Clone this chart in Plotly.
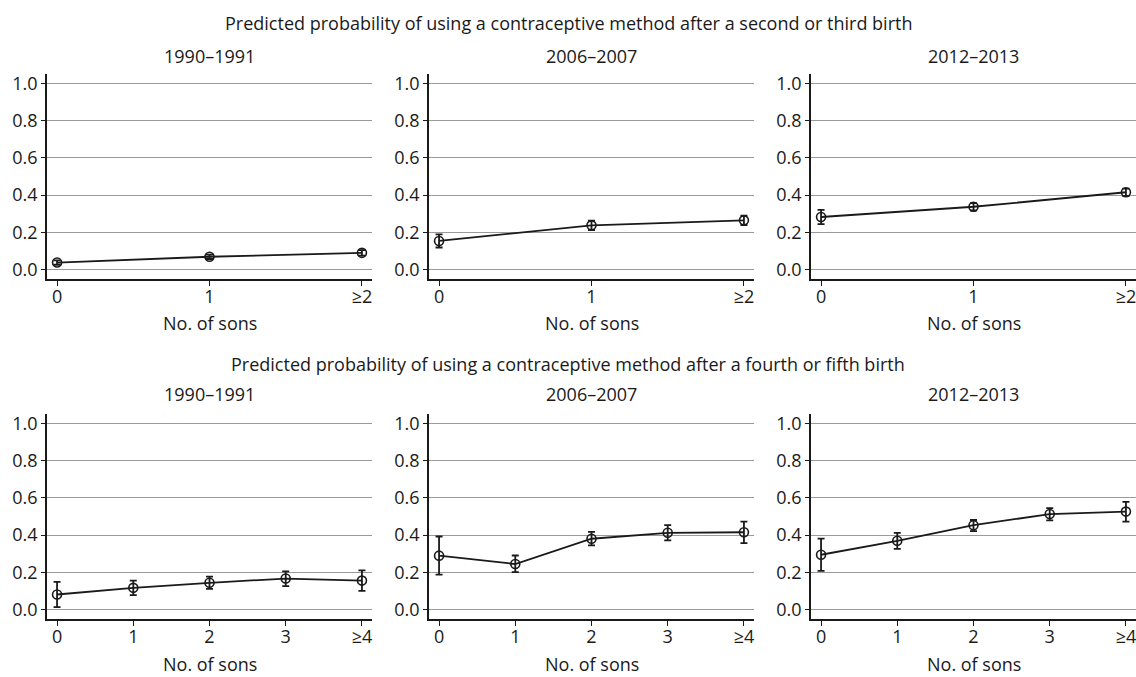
import plotly.graph_objects as go

# ---------------- data ----------------
periods = ["1990–1991", "2006–2007", "2012–2013"]

top_title = "Predicted probability of using a contraceptive method after a second or third birth"
bottom_title = "Predicted probability of using a contraceptive method after a fourth or fifth birth"

top_x = [0, 1, 2]
top_ticks = ["0", "1", "≥2"]
top_y = [
    [0.037, 0.068, 0.089],
    [0.153, 0.237, 0.264],
    [0.282, 0.337, 0.415],
]
top_err = [
    [0.012, 0.012, 0.015],
    [0.035, 0.025, 0.025],
    [0.038, 0.020, 0.020],
]

bot_x = [0, 1, 2, 3, 4]
bot_ticks = ["0", "1", "2", "3", "≥4"]
bot_y = [
    [0.080, 0.116, 0.143, 0.166, 0.155],
    [0.289, 0.244, 0.380, 0.412, 0.415],
    [0.294, 0.369, 0.453, 0.513, 0.526],
]
bot_hi = [
    [0.148, 0.155, 0.176, 0.205, 0.210],
    [0.392, 0.290, 0.417, 0.453, 0.472],
    [0.381, 0.412, 0.481, 0.545, 0.578],
]
bot_lo = [
    [0.012, 0.077, 0.110, 0.125, 0.100],
    [0.187, 0.200, 0.344, 0.371, 0.357],
    [0.207, 0.326, 0.421, 0.479, 0.472],
]

y_ticks = [0.0, 0.2, 0.4, 0.6, 0.8, 1.0]
y_ticktext = ["0.0", "0.2", "0.4", "0.6", "0.8", "1.0"]

# ---------------- layout geometry ----------------
W, H = 1136, 677
FONT = "Open Sans"
FS = 18
TXT = "#1a1a1a"
px_cols = [(47, 372), (429, 754), (811, 1136)]
px_rows = [(71, 278), (413, 620)]  # top, bottom in pixels

def fx(p):
    return p / W

def fy(p):
    return 1 - p / H

fig = go.Figure()
layout = {}
annotations = []

idx = 0
for r in range(2):
    xs = top_x if r == 0 else bot_x
    ticks = top_ticks if r == 0 else bot_ticks
    n = len(xs) - 1
    pad = 0.066 * (n / 2)
    for c in range(3):
        idx += 1
        xa = "x" if idx == 1 else f"x{idx}"
        ya = "y" if idx == 1 else f"y{idx}"
        if r == 0:
            ys = top_y[c]
            ep = top_err[c]
            em = top_err[c]
        else:
            ys = bot_y[c]
            ep = [h - v for h, v in zip(bot_hi[c], ys)]
            em = [v - l for v, l in zip(ys, bot_lo[c])]
        fig.add_trace(go.Scatter(
            x=xs, y=ys, xaxis=xa, yaxis=ya, mode="lines+markers",
            line=dict(color=TXT, width=1.8),
            marker=dict(symbol="circle-open", size=9, color=TXT,
                        line=dict(width=1.6, color=TXT)),
            error_y=dict(type="data", symmetric=False, array=ep, arrayminus=em,
                         color=TXT, thickness=1.8, width=3.5),
            showlegend=False, hoverinfo="skip", cliponaxis=False,
        ))
        x0, x1 = px_cols[c]
        y0, y1 = px_rows[r]
        layout["xaxis" if idx == 1 else f"xaxis{idx}"] = dict(
            domain=[fx(x0), fx(x1)], anchor=ya,
            range=[-pad, n + pad], tickmode="array", tickvals=xs, ticktext=ticks,
            showgrid=False, zeroline=False, showline=True, linecolor=TXT,
            linewidth=1.5, ticks="outside", ticklen=5, tickwidth=1.2,
            tickcolor=TXT, tickfont=dict(family=FONT, size=FS, color=TXT),
            ticklabeloverflow="allow", ticklabelstandoff=-5,
            fixedrange=True,
        )
        layout["yaxis" if idx == 1 else f"yaxis{idx}"] = dict(
            domain=[fy(y1), fy(y0)], anchor=xa,
            range=[-0.0535, 1.0535], tickmode="array", tickvals=y_ticks,
            ticktext=y_ticktext, showgrid=True, gridcolor="#9a9a9a", gridwidth=1,
            zeroline=False, showline=True, linecolor=TXT, linewidth=1.5,
            ticks="outside", ticklen=4, tickwidth=1.2, tickcolor=TXT,
            tickfont=dict(family=FONT, size=FS, color=TXT), fixedrange=True,
        )
        annotations.append(dict(
            text=periods[c], x=fx((x0 + x1) / 2), y=fy(53 if r == 0 else 393),
            xref="paper", yref="paper", showarrow=False, xanchor="center",
            yanchor="middle", font=dict(family=FONT, size=FS, color=TXT)))
        annotations.append(dict(
            text="No. of sons", x=fx((x0 + x1) / 2), y=fy(322 if r == 0 else 665),
            xref="paper", yref="paper", showarrow=False, xanchor="center",
            yanchor="middle", font=dict(family=FONT, size=FS, color=TXT)))

annotations.append(dict(
    text=top_title, x=fx(568), y=fy(20), xref="paper", yref="paper",
    showarrow=False, xanchor="center", yanchor="middle",
    font=dict(family=FONT, size=FS, color=TXT)))
annotations.append(dict(
    text=bottom_title, x=fx(568), y=fy(363), xref="paper", yref="paper",
    showarrow=False, xanchor="center", yanchor="middle",
    font=dict(family=FONT, size=FS, color=TXT)))

fig.update_layout(
    width=W, height=H, margin=dict(l=0, r=0, t=0, b=0),
    paper_bgcolor="white", plot_bgcolor="white",
    annotations=annotations, **layout,
)

fig.write_html(
    "out.html",
    config={"displayModeBar": False},
    post_script="document.body.style.margin='0';document.body.style.overflow='hidden';",
)
